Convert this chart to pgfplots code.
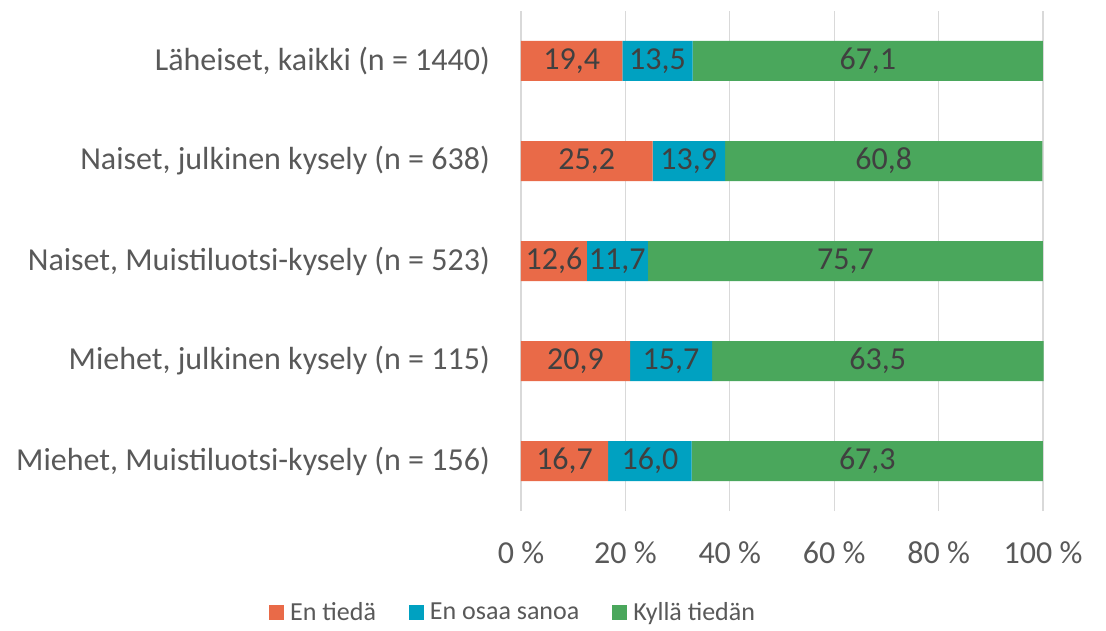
\documentclass[border=0pt]{standalone}
\usepackage{pgfplots}
\pgfplotsset{compat=1.18}
\usepackage{fontspec}
\setmainfont{Carlito}
\definecolor{cOr}{HTML}{E96A48}
\definecolor{cBl}{HTML}{00A1C1}
\definecolor{cGr}{HTML}{4AA75C}
\definecolor{txt}{HTML}{595959}
\definecolor{lab}{HTML}{404040}
\definecolor{grd}{HTML}{D9D9D9}
\newcommand{\fs}{\fontsize{32}{38}\selectfont}
\newcommand{\fl}{\fontsize{26}{31}\selectfont}
\begin{document}
\begin{tikzpicture}
\begin{axis}[
  at={(0pt,0pt)}, anchor=south west,
  scale only axis, width=522pt, height=500pt,
  xbar stacked, bar width=40pt,
  xmin=0, xmax=100, ymin=-0.5, ymax=4.5,
  clip=false,
  xtick={0,20,...,100},
  xticklabels={0 \%,20 \%,40 \%,60 \%,80 \%,100 \%},
  ytick={0,...,4},
  yticklabels={{Miehet, Muistiluotsi-kysely (n = 156)},{Miehet, julkinen kysely (n = 115)},{Naiset, Muistiluotsi-kysely (n = 523)},{Naiset, julkinen kysely (n = 638)},{Läheiset, kaikki (n = 1440)}},
  xmajorgrids, ymajorgrids=false,
  major grid style={draw=grd, line width=1.3pt},
  axis line style={draw=none},
  tick style={draw=none},
  xticklabel style={font=\fs, text=txt, anchor=center, yshift=-42pt},
  yticklabel style={font=\fs, text=txt, anchor=east, inner sep=0pt, xshift=-31pt},
  /pgf/number format/assume math mode=true,
  visualization depends on=rawx \as \rawx,
  nodes near coords={\pgfmathprintnumber[fixed,fixed zerofill,precision=1,use comma]{\rawx}},
  nodes near coords style={anchor=center, text=lab, font=\fs},
  legend columns=3,
  legend style={at={(-0.017,-0.202)}, anchor=center, draw=none, font=\fl, text=txt,
    nodes={inner sep=0pt},
    /tikz/every odd column/.append style={column sep=6pt},
    /tikz/every even column/.append style={column sep=33pt}},
  legend image code/.code={\fill[#1,draw=none] (0pt,-7.5pt) rectangle (15pt,7.5pt);},
]
\addplot[fill=cOr, draw=none] coordinates {(16.7,0) (20.9,1) (12.6,2) (25.2,3) (19.4,4)};
\addplot[fill=cBl, draw=none] coordinates {(16.0,0) (15.7,1) (11.7,2) (13.9,3) (13.5,4)};
\addplot[fill=cGr, draw=none] coordinates {(67.3,0) (63.5,1) (75.7,2) (60.8,3) (67.1,4)};
\legend{En tiedä, En osaa sanoa, Kyllä tiedän}
\end{axis}
\pgfresetboundingbox
\useasboundingbox (-521pt,-119pt) rectangle (585pt,511pt);
\end{tikzpicture}
\end{document}
